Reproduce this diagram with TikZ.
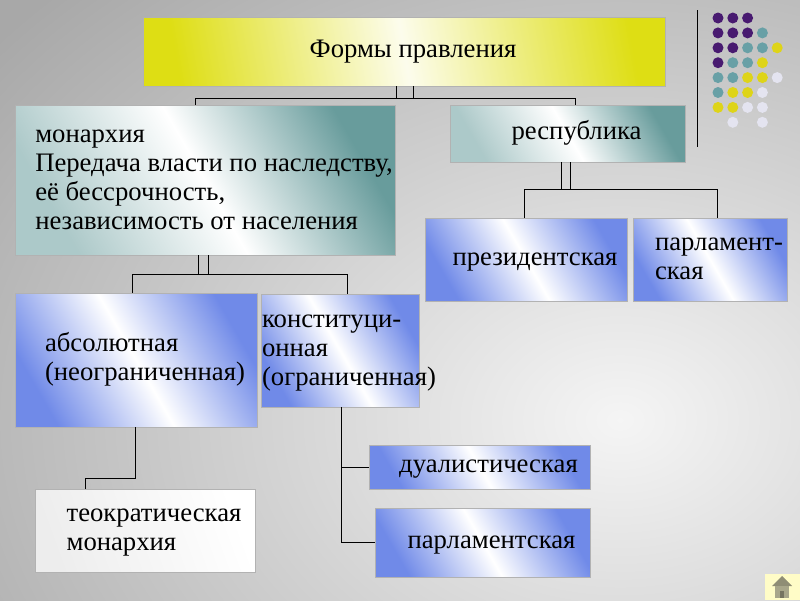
\documentclass[tikz,border=0pt]{standalone}
\usepackage{fontspec}
\setmainfont{Liberation Serif}
\newfontfamily\formfont{Liberation Serif}
\usetikzlibrary{positioning}

\definecolor{ttlyellow}{RGB}{222,222,20}
\definecolor{boxteal}{RGB}{104,156,156}
\definecolor{boxblue}{RGB}{112,138,232}
\definecolor{dotpurple}{RGB}{72,26,112}
\definecolor{dotteal}{RGB}{104,160,166}
\definecolor{dotyellow}{RGB}{222,212,24}
\definecolor{dotwhite}{RGB}{228,228,240}
\definecolor{housegray}{RGB}{168,166,138}

% text of a box, set a little right of the centre; it never widens the box
\newcommand{\formtext}[1]{\hspace*{18pt}\makebox[0pt]{\begin{tabular}{@{}l@{}}#1\end{tabular}}}

\tikzset{
  form/.style={draw=gray!60, line width=0.6pt, inner sep=0pt, text=black,
    font=\formfont\fontsize{26.7}{29}\selectfont},
  yellowform/.style={form, left color=ttlyellow, right color=ttlyellow, middle color=ttlyellow!8, shading angle=100},
  tealform/.style={form, left color=boxteal!55, right color=boxteal, middle color=white, shading angle=120},
  blueform/.style={form, left color=boxblue, right color=boxblue, middle color=white, shading angle=120},
  paleform/.style={form, left color=gray!14, right color=white, shading angle=110},
  link/.style={draw=black, line width=1pt}
}

\begin{document}
\begin{tikzpicture}[x=1pt,y=-1pt]
  \useasboundingbox (0,0) rectangle (800,600);
  % background
  \begin{scope}
    \clip (0,0) rectangle (800,600);
    \shade[inner color=gray!8, outer color=gray!68] (-180,-180) rectangle (1420,1020);
  \end{scope}

  % boxes
  \node[yellowform, minimum width=522pt, minimum height=69pt] (ttl)   at (404,51.5)  {\formtext{Формы правления}};
  \node[tealform,   minimum width=380pt, minimum height=150pt] (mon)  at (205,180)   {\formtext{монархия\\Передача власти по наследству,\\её бессрочность,\\независимость от населения}};
  \node[tealform,   minimum width=235pt, minimum height=57pt]  (rep)  at (567.5,133.5) {\formtext{республика}};
  \node[blueform,   minimum width=202pt, minimum height=83pt]  (pres) at (526,259.5) {\formtext{президентская}};
  \node[blueform,   minimum width=154pt, minimum height=83pt]  (parlr) at (710,259.5) {\formtext{парламент-\\ская}};
  \node[blueform,   minimum width=242pt, minimum height=134pt] (abs)  at (136,360)   {\formtext{абсолютная\\(неограниченная)}};
  \node[blueform,   minimum width=158pt, minimum height=113pt] (con)  at (340,350.5) {\formtext{конституци-\\онная\\(ограниченная)}};
  \node[paleform,   minimum width=220pt, minimum height=83pt]  (theo) at (145,530.5) {\formtext{теократическая\\монархия}};
  \node[blueform,   minimum width=221pt, minimum height=44pt]  (dual) at (479.5,467) {\formtext{дуалистическая}};
  \node[blueform,   minimum width=215pt, minimum height=69pt]  (parl) at (482.5,542.5) {\formtext{парламентская}};

  % connectors
  \draw[link] ([xshift=-8pt]ttl.south) -- ++(0,13);
  \draw[link] ([xshift=9pt]ttl.south) -- ++(0,13);
  \draw[link] ([xshift=-10pt]mon.north) -- ++(0,-6) -| ([xshift=7.5pt]rep.north);

  \draw[link] ([xshift=-7pt]mon.south) -- ++(0,20);
  \draw[link] ([xshift=3pt]mon.south) -- ++(0,20);
  \draw[link] ([xshift=-4pt]abs.north) -- ++(0,-18) -| ([xshift=7pt]con.north);

  \draw[link] ([xshift=-6.5pt]rep.south) -- ++(0,28);
  \draw[link] ([xshift=2.5pt]rep.south) -- ++(0,28);
  \draw[link] ([xshift=-2pt]pres.north) -- ++(0,-28) -| ([xshift=7pt]parlr.north);

  \draw[link] ([xshift=-1pt]abs.south) -- ++(0,51) -| ([xshift=-60pt]theo.north);
  \draw[link] ([xshift=1pt]con.south) |- (dual.west);
  \draw[link] ([xshift=1pt]con.south) |- (parl.west);

  % decoration top right
  \draw[black, line width=0.8pt] (697,10) -- (697,147);
  \foreach \col/\row/\dc in {0/0/dotpurple, 1/0/dotpurple, 2/0/dotpurple,
      0/1/dotpurple, 1/1/dotpurple, 2/1/dotpurple, 3/1/dotteal,
      0/2/dotpurple, 1/2/dotpurple, 2/2/dotteal, 3/2/dotteal, 4/2/dotyellow,
      0/3/dotpurple, 1/3/dotteal, 2/3/dotteal, 3/3/dotyellow,
      0/4/dotteal, 1/4/dotteal, 2/4/dotyellow, 3/4/dotyellow, 4/4/dotwhite,
      0/5/dotteal, 1/5/dotyellow, 2/5/dotyellow, 3/5/dotwhite,
      0/6/dotyellow, 1/6/dotyellow, 2/6/dotwhite, 3/6/dotwhite,
      1/7/dotwhite, 3/7/dotwhite}
    \fill[\dc] (718+14.8*\col,18+14.9*\row) circle (5.5);

  % home button
  \fill[yellow!22] (765,574) rectangle (800,600);
  \fill[housegray!85!black] (772,586) -- (782,576) -- (792,586) -- cycle;
  \fill[housegray] (775,586) rectangle (789,598);
  \fill[housegray!70!black] (780,591) rectangle (784,598);
\end{tikzpicture}
\end{document}
